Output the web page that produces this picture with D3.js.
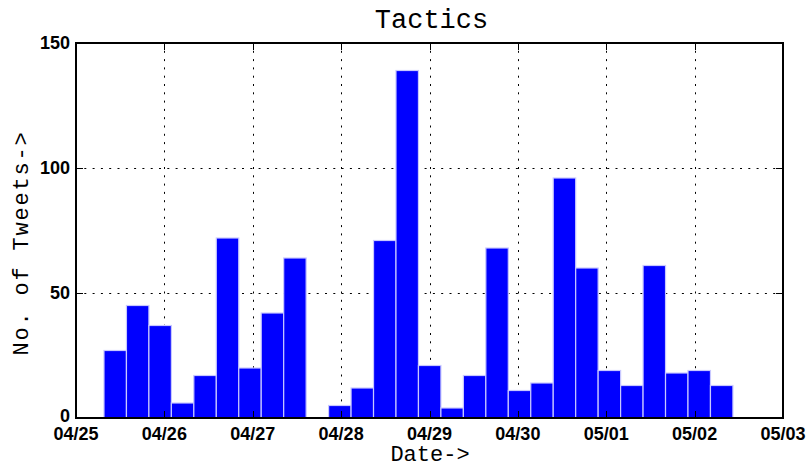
<!DOCTYPE html>
<html>
<head>
<meta charset="utf-8">
<script src="https://cdn.jsdelivr.net/npm/d3@7"></script>
<style>
  body { margin: 0; padding: 0; background: #fff; }
  svg { display: block; }
</style>
</head>
<body>
<script>
// data
var title = "Tactics";
var xLabel = "Date->";
var yLabel = "No. of Tweets->";
var dayStart = new Date(2013, 3, 25);
var dayEnd = new Date(2013, 4, 3);
var firstBin = new Date(2013, 3, 25, 7, 36);   // left edge of first bar
var binMinutes = 366;                            // width of each bar
var counts = [27, 45, 37, 6, 17, 72, 20, 42, 64, 0, 5, 12, 71, 139, 21, 4, 17, 68, 11, 14, 96, 60, 19, 13, 61, 18, 19, 13];
var yTicks = [0, 50, 100, 150];

var width = 810, height = 467;
var margin = {left: 76, right: 27, top: 43, bottom: 49};

var svg = d3.select("body")
    .append("svg")
    .attr("width", width)
    .attr("height", height);

svg.append("rect").attr("width", width).attr("height", height).attr("fill", "#fff");

var x = d3.scaleTime()
    .domain([dayStart, dayEnd])
    .range([margin.left, width - margin.right]);
var y = d3.scaleLinear()
    .domain([0, 150])
    .range([height - margin.bottom, margin.top]);

var days = d3.timeDay.range(dayStart, d3.timeDay.offset(dayEnd, 1));
var fmt = d3.timeFormat("%m/%d");

// grid (behind the bars)
var grid = svg.append("g")
    .attr("stroke", "#000")
    .attr("stroke-width", 1)
    .attr("stroke-dasharray", "2,6.3");
grid.selectAll(".vg")
    .data(days.slice(1, -1))
    .enter().append("line")
    .attr("x1", function(d) { return Math.round(x(d)) + 0.5; })
    .attr("x2", function(d) { return Math.round(x(d)) + 0.5; })
    .attr("y1", y(0))
    .attr("y2", y(150));
grid.selectAll(".hg")
    .data(yTicks.slice(1, -1))
    .enter().append("line")
    .attr("y1", function(d) { return Math.round(y(d)) + 0.5; })
    .attr("y2", function(d) { return Math.round(y(d)) + 0.5; })
    .attr("x1", x(dayStart))
    .attr("x2", x(dayEnd));

// bars
svg.selectAll(".bar")
    .data(counts)
    .enter().append("rect")
    .attr("class", "bar")
    .attr("x", function(_, i) { return x(d3.timeMinute.offset(firstBin, i * binMinutes)); })
    .attr("width", function(_, i) {
        return x(d3.timeMinute.offset(firstBin, (i + 1) * binMinutes)) - x(d3.timeMinute.offset(firstBin, i * binMinutes));
    })
    .attr("y", function(d) { return y(d); })
    .attr("height", function(d) { return y(0) - y(d); })
    .attr("fill", "#0000ff")
    .attr("stroke", "#c8c8ff")
    .attr("stroke-width", 1.2);

// tick marks inside the box, on all four sides
var tickLen = 7;
var ticks = svg.append("g").attr("stroke", "#000").attr("stroke-width", 1);
days.slice(1, -1).forEach(function(d) {
    var xx = Math.round(x(d)) + 0.5;
    ticks.append("line").attr("x1", xx).attr("x2", xx).attr("y1", y(0)).attr("y2", y(0) - tickLen);
    ticks.append("line").attr("x1", xx).attr("x2", xx).attr("y1", y(150)).attr("y2", y(150) + tickLen);
});
yTicks.slice(1, -1).forEach(function(v) {
    var yy = Math.round(y(v)) + 0.5;
    ticks.append("line").attr("y1", yy).attr("y2", yy).attr("x1", x(dayStart)).attr("x2", x(dayStart) + tickLen);
    ticks.append("line").attr("y1", yy).attr("y2", yy).attr("x1", x(dayEnd)).attr("x2", x(dayEnd) - tickLen);
});

// box
svg.append("rect")
    .attr("x", x(dayStart))
    .attr("y", y(150))
    .attr("width", x(dayEnd) - x(dayStart))
    .attr("height", y(0) - y(150))
    .attr("fill", "none")
    .attr("stroke", "#000")
    .attr("stroke-width", 2);

// tick labels
var tickFont = "'Liberation Sans', Arial, sans-serif";
svg.selectAll(".xt")
    .data(days)
    .enter().append("text")
    .attr("x", function(d) { return x(d); })
    .attr("y", y(0) + 22)
    .attr("text-anchor", "middle")
    .attr("font-family", tickFont)
    .attr("font-weight", "bold")
    .attr("font-size", 18)
    .text(fmt);
svg.selectAll(".yt")
    .data(yTicks)
    .enter().append("text")
    .attr("x", x(dayStart) - 6)
    .attr("y", function(d) { return y(d); })
    .attr("dy", d => d === 0 ? "0.2em" : "0.36em")
    .attr("text-anchor", "end")
    .attr("font-family", tickFont)
    .attr("font-weight", "bold")
    .attr("font-size", 18)
    .text(function(d) { return d; });

// titles
var monoFont = "'Courier New', 'Liberation Mono', monospace";
svg.append("text")
    .attr("x", (x(dayStart) + x(dayEnd)) / 2 + 2)
    .attr("y", 28)
    .attr("text-anchor", "middle")
    .attr("font-family", monoFont)
    .attr("font-size", 27)
    .text(title);
svg.append("text")
    .attr("x", 430)
    .attr("y", 461)
    .attr("text-anchor", "middle")
    .attr("font-family", monoFont)
    .attr("font-size", 22)
    .text(xLabel);
svg.append("text")
    .attr("transform", "translate(28,243) rotate(-90)")
    .attr("text-anchor", "middle")
    .attr("font-family", monoFont)
    .attr("font-size", 22)
    .attr("letter-spacing", 1.8)
    .text(yLabel);
</script>
</body>
</html>
